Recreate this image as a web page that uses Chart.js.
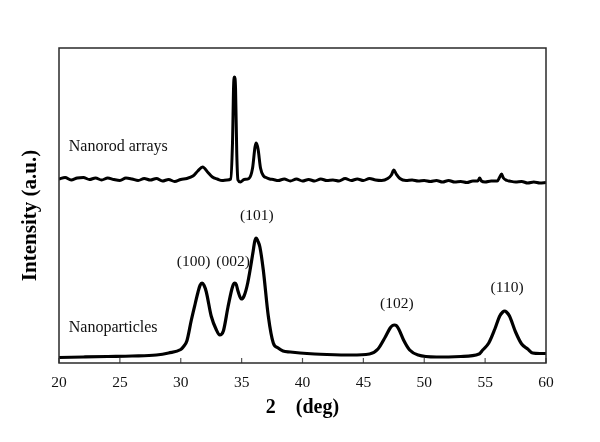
<!DOCTYPE html>
<html>
<head>
<meta charset="utf-8">
<script src="https://cdn.jsdelivr.net/npm/chart.js@4.4.1/dist/chart.umd.min.js"></script>
<style>
  html, body { margin: 0; padding: 0; background: #fff; }
  #wrap { width: 600px; height: 442px; position: relative; }
</style>
</head>
<body>
<div id="wrap"><canvas id="c" width="600" height="442"></canvas></div>
<script>
// ---- Data (2θ in degrees, intensity in arbitrary units) ----
const rodX = [20,20.5,21,21.5,22,22.5,23,23.5,24,24.5,25,25.5,26,26.5,27,27.5,28,28.5,29,29.5,30,30.5,
  31.0,31.4,31.8,32.2,32.6,33.0,33.4,33.8,34.1,34.25,34.35,34.42,34.5,34.6,34.7,34.9,35.2,35.6,35.9,36.1,36.2,36.35,36.55,36.8,
  37.0,37.3,37.6,38,38.5,39,39.5,40,40.5,41,41.5,42,42.5,43,43.5,44,44.5,45,45.5,46,46.5,47,47.3,47.5,47.7,48.0,48.5,
  49,49.5,50,50.5,51,51.5,52,52.5,53,53.5,54,54.4,54.55,54.7,55,55.5,56,56.2,56.35,56.5,56.8,57,57.5,58,58.5,59,59.5,60];
const rodY = [184,185.5,183,185,185.5,183.5,185,183,185,183.5,182.5,185,184,182.5,184.5,183,184.5,182,183.5,181.5,183.5,184.5,
  187,192,196,191,186,184,182.5,183,184,220,280,286,275,210,183,181,183.5,184.5,195,216,220,214,195,187,
  185.5,184,183.5,182.5,184,182,184,182,183.5,182,184,182.5,183,182,184.5,182.5,184,182.5,184.5,183,182.5,184.5,188,193,189,184.5,182.5,
  183,182,182.5,181.5,182.5,181,182.5,181,181.5,180.5,182,182,185,182,181,182,182,186,189,185,182.5,182,181,181.5,180,181,180,180.5];

const partX = [20,22,24,26,28,29,30,30.2,30.5,30.87,31.2,31.42,31.58,31.75,31.92,32.1,32.5,32.93,33.2,33.5,33.88,34.2,34.32,34.43,34.56,34.7,34.98,35.2,35.5,35.95,36.08,36.2,36.33,36.5,36.78,37.19,37.6,38.0,38.4,39,39.8,41,42,44,45.5,46.2,46.8,47.2,47.4,47.55,47.7,47.9,48.3,48.8,49.5,51,53,54.5,54.8,55.3,55.8,56.2,56.45,56.6,56.75,57.0,57.5,58.0,58.5,58.9,59.5,60];
const partY = [5.5,6,6.5,7,8,10,13.5,16,22,43,60,71,77.5,80,77.5,71,47,33,28,32,56,74,78.5,80,78.5,72,64,67,80,112,122,125,122,116,93,47,20,15,12,11,10,9,8.5,8,9,14,26,35,37.5,38,37.5,34,23,13,8,6,6.5,9,13,20,34,47,51,52,51,47,31,19,14,10,9.5,9.5];

const xTicks = [20,25,30,35,40,45,50,55,60];

const peakLabels = ['(100)','(002)','(101)','(102)','(110)'];
const peakLabelX = [31.05,34.3,36.25,47.75,56.8];
const peakLabelY = [101,101,147,59,75];

const seriesNames = ['Nanorod arrays','Nanoparticles'];
const seriesLabelX = [20.8,20.8];
const seriesLabelY = [216,35];

const xTitle = '2    (deg)';
const yTitle = 'Intensity (a.u.)';

// ---- Chart ----
const SERIF = "'Liberation Serif','Times New Roman',serif";

const overlay = {
  id: 'overlay',
  afterDatasetsDraw(chart) {
    const ctx = chart.ctx;
    const xs = chart.scales.x, ys = chart.scales.y;
    const a = chart.chartArea;
    ctx.save();
    // inward tick marks on bottom axis
    ctx.strokeStyle = '#555';
    ctx.lineWidth = 1.2;
    xs.ticks.forEach(t => {
      const px = xs.getPixelForValue(t.value);
      ctx.beginPath();
      ctx.moveTo(px, a.bottom);
      ctx.lineTo(px, a.bottom - 5);
      ctx.stroke();
    });
    // frame
    ctx.strokeStyle = '#2a2a2a';
    ctx.lineWidth = 1.5;
    ctx.strokeRect(a.left, a.top, a.right - a.left, a.bottom - a.top);
    // peak labels
    ctx.fillStyle = '#111';
    ctx.font = '15.5px ' + SERIF;
    ctx.textAlign = 'center';
    ctx.textBaseline = 'middle';
    peakLabels.forEach((s, i) => {
      ctx.fillText(s, xs.getPixelForValue(peakLabelX[i]), ys.getPixelForValue(peakLabelY[i]));
    });
    // series labels
    ctx.font = '16px ' + SERIF;
    ctx.textAlign = 'left';
    seriesNames.forEach((s, i) => {
      ctx.fillText(s, xs.getPixelForValue(seriesLabelX[i]), ys.getPixelForValue(seriesLabelY[i]));
    });
    // y axis title
    ctx.fillStyle = '#000';
    ctx.font = 'bold 21px ' + SERIF;
    ctx.textAlign = 'center';
    ctx.translate(ys.left + 31, (a.top + a.bottom) / 2 + 10);
    ctx.rotate(-Math.PI / 2);
    ctx.fillText(yTitle, 0, 0);
    ctx.restore();
  }
};

const toPts = (xa, ya) => xa.map((x, i) => ({x: x, y: ya[i]}));

new Chart(document.getElementById('c'), {
  type: 'line',
  data: {
    datasets: [
      { label: seriesNames[0], data: toPts(rodX, rodY), borderColor: '#000', borderWidth: 3, pointRadius: 0, cubicInterpolationMode: 'monotone', fill: false },
      { label: seriesNames[1], data: toPts(partX, partY), borderColor: '#000', borderWidth: 3.2, pointRadius: 0, cubicInterpolationMode: 'monotone', fill: false }
    ]
  },
  options: {
    responsive: false,
    animation: false,
    layout: { padding: { top: 48, right: 54, bottom: 0, left: 0 } },
    plugins: { legend: { display: false }, tooltip: { enabled: false } },
    scales: {
      x: {
        type: 'linear', min: 20, max: 60,
        afterBuildTicks: s => { s.ticks = xTicks.map(v => ({value: v})); },
        afterFit: s => { s.height = 79; },
        grid: { display: false, drawTicks: false },
        border: { display: false },
        ticks: { color: '#111', font: { family: SERIF, size: 15.5 }, padding: 11, maxRotation: 0 },
        title: { display: true, text: xTitle, color: '#000', font: { family: SERIF, size: 20, weight: 'bold' }, padding: { top: 0, bottom: 22 } }
      },
      y: {
        min: 0, max: 315,
        afterFit: s => { s.width = 59; },
        grid: { display: false, drawTicks: false },
        border: { display: false },
        ticks: { display: false },
        title: { display: false }
      }
    }
  },
  plugins: [overlay]
});
</script>
</body>
</html>
